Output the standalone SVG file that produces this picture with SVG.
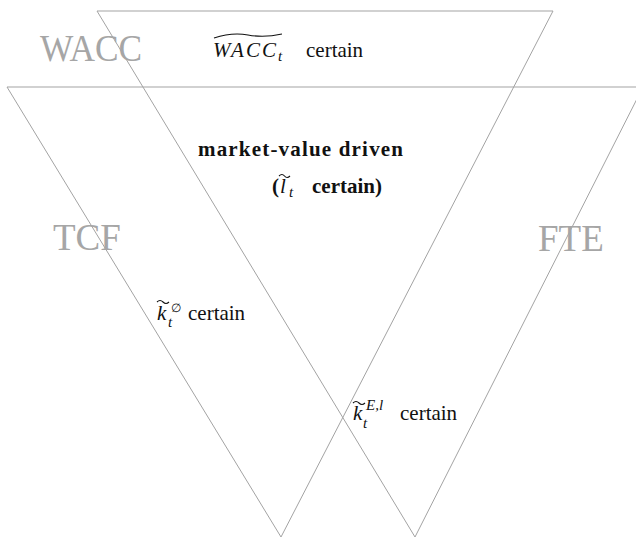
<svg xmlns="http://www.w3.org/2000/svg" width="636" height="537" viewBox="0 0 636 537">
<style>
.ln{stroke:#a3a3a3;stroke-width:1;fill:none}
.big{font-family:"Liberation Serif","Times New Roman",serif;font-size:37px;fill:#a6a6a6}
.lbl{font-family:"Liberation Serif","Times New Roman",serif;font-size:21px;fill:#111}
.bold{font-weight:bold}
.ital{font-style:italic}
.small{font-size:15px}
.acc{stroke:#111;stroke-width:1.1;fill:none}
</style>
<rect width="636" height="537" fill="#fff"/>
<g id="connectors">
<line class="ln" x1="97" y1="11" x2="553" y2="11"/>
<line class="ln" x1="7" y1="87" x2="636" y2="87"/>
<line class="ln" x1="97" y1="11" x2="415" y2="537"/>
<line class="ln" x1="7" y1="87" x2="281" y2="537"/>
<line class="ln" x1="553" y1="11" x2="281" y2="537"/>
<line class="ln" x1="643" y1="87" x2="415" y2="537"/>
</g>
<g id="wacc">
<text class="big" x="40" y="61" textLength="102" lengthAdjust="spacingAndGlyphs">WACC</text>
<path class="acc" d="M214,38 Q232,32 248,35 T282,34"/>
<text class="lbl ital" x="213" y="57" textLength="63">WACC</text>
<text class="lbl ital small" x="278" y="61">t</text>
<text class="lbl" x="306" y="57">certain</text>
</g>
<g id="market">
<text class="lbl bold" x="198" y="156" textLength="205">market-value driven</text>
<text class="lbl bold" x="272" y="193">(</text>
<text class="lbl ital" x="280" y="193">l</text>
<path class="acc" d="M279,176 q3,-3 5.5,0 t5.5,0"/>
<text class="lbl ital small" x="289" y="197">t</text>
<text class="lbl bold" x="312" y="193">certain)</text>
</g>
<g id="tcf">
<text class="big" x="53" y="250">TCF</text>
<text class="lbl ital" x="157" y="320">k</text>
<path class="acc" d="M157,302 q3,-3 6,0 t6,0"/>
<text x="171" y="312" font-size="12" font-family="DejaVu Serif, serif" fill="#111">∅</text>
<text class="lbl ital small" x="168" y="327">t</text>
<text class="lbl" x="188" y="320">certain</text>
</g>
<g id="fte">
<text class="big" x="538" y="251">FTE</text>
<text class="lbl ital" x="353" y="420">k</text>
<path class="acc" d="M353,403 q3,-3 6,0 t6,0"/>
<text class="lbl ital small" x="366" y="410">E,l</text>
<text class="lbl ital small" x="363" y="428">t</text>
<text class="lbl" x="400" y="420">certain</text>
</g>
</svg>
